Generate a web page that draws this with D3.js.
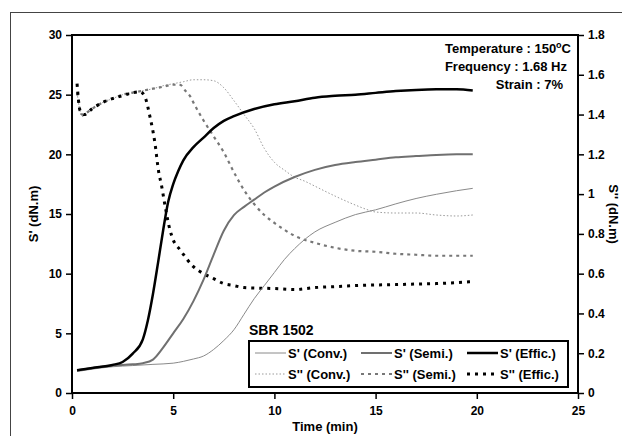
<!DOCTYPE html>
<html>
<head>
<meta charset="utf-8">
<script src="https://cdn.jsdelivr.net/npm/d3@7"></script>
<style>
  html, body { margin: 0; padding: 0; background: #fff; }
  svg { display: block; }
  text { font-family: "Liberation Sans", Arial, sans-serif; font-weight: bold; fill: #000; }
</style>
</head>
<body>
<svg id="chart" width="622" height="436"></svg>
<script>
// Cure curves of SBR 1502 at 150 °C: storage torque S' (left axis) and loss torque S'' (right axis)

const xTicks = [0, 5, 10, 15, 20, 25];
const yLeftTicks = [0, 5, 10, 15, 20, 25, 30];
const yRightTicks = [0, 0.2, 0.4, 0.6, 0.8, 1, 1.2, 1.4, 1.6, 1.8];

// S' – conventional cure system
const sConvTime  = [0.25, 1, 2, 3, 4, 5, 5.5, 6, 6.5, 7, 7.5, 8, 8.5, 9, 9.5, 10, 10.5, 11, 12, 13, 14, 15, 16, 17, 18, 19, 19.8];
const sConvValue = [1.8, 2.0, 2.2, 2.3, 2.4, 2.5, 2.65, 2.85, 3.1, 3.65, 4.4, 5.3, 6.6, 7.9, 9.0, 10.1, 11.2, 12.1, 13.5, 14.3, 14.95, 15.35, 15.85, 16.3, 16.65, 16.95, 17.15];

// S' – semi-efficient cure system
const sSemiTime  = [0.25, 1, 2, 3, 3.5, 4, 4.5, 5, 5.5, 6, 6.5, 7, 7.5, 8, 8.5, 9, 9.5, 10, 11, 12, 13, 14, 15, 16, 17, 18, 19, 19.8];
const sSemiValue = [1.9, 2.1, 2.3, 2.4, 2.5, 2.8, 3.8, 5.0, 6.2, 7.7, 9.5, 11.6, 13.6, 14.9, 15.6, 16.2, 16.8, 17.3, 18.1, 18.7, 19.1, 19.35, 19.55, 19.75, 19.85, 19.95, 20.0, 20.0];

// S' – efficient cure system
const sEfficTime  = [0.25, 1, 2, 2.5, 3, 3.5, 3.75, 4, 4.25, 4.5, 4.75, 5, 5.25, 5.5, 6, 6.5, 7, 7.5, 8, 9, 10, 11, 12, 13, 14, 15, 16, 17, 18, 19, 19.8];
const sEfficValue = [1.9, 2.1, 2.35, 2.6, 3.3, 4.5, 6.1, 8.3, 10.9, 13.6, 16.0, 17.5, 18.6, 19.5, 20.6, 21.4, 22.2, 22.8, 23.2, 23.8, 24.2, 24.45, 24.75, 24.9, 25.0, 25.15, 25.3, 25.4, 25.45, 25.45, 25.35];

// S'' – conventional cure system
const ssConvTime  = [0.25, 0.5, 1, 1.5, 2, 2.5, 3, 3.5, 4, 4.5, 5, 5.5, 6, 6.5, 7, 7.5, 8, 8.5, 9, 9.5, 10, 10.5, 11, 11.5, 12, 13, 14, 14.5, 15, 16, 17, 18, 19, 19.8];
const ssConvValue = [1.51, 1.39, 1.43, 1.46, 1.48, 1.5, 1.51, 1.52, 1.53, 1.545, 1.555, 1.565, 1.575, 1.575, 1.57, 1.535, 1.47, 1.4, 1.33, 1.23, 1.16, 1.12, 1.085, 1.065, 1.04, 0.99, 0.945, 0.925, 0.91, 0.905, 0.905, 0.895, 0.89, 0.895];

// S'' – semi-efficient cure system
const ssSemiTime  = [0.25, 0.5, 1, 1.5, 2, 2.5, 3, 3.5, 4, 4.5, 5, 5.35, 5.6, 5.85, 6, 6.5, 7, 7.5, 8, 8.5, 9, 9.5, 10, 10.5, 11, 12, 13, 14, 15, 16, 17, 18, 19, 19.8];
const ssSemiValue = [1.51, 1.4, 1.43, 1.46, 1.48, 1.5, 1.51, 1.52, 1.53, 1.54, 1.55, 1.549, 1.52, 1.49, 1.46, 1.37, 1.29, 1.21, 1.11, 1.02, 0.95, 0.895, 0.855, 0.82, 0.79, 0.755, 0.73, 0.715, 0.71, 0.7, 0.695, 0.69, 0.69, 0.69];

// S'' – efficient cure system
const ssEfficTime  = [0.25, 0.4, 0.6, 1, 1.5, 2, 2.5, 3, 3.36, 3.6, 3.85, 4.1, 4.27, 4.43, 4.6, 4.84, 5, 5.34, 6, 6.5, 7, 7.5, 8, 8.5, 9, 10, 11, 12, 13, 14, 15, 16, 17, 18, 19, 19.8];
const ssEfficValue = [1.555, 1.42, 1.4, 1.43, 1.46, 1.48, 1.495, 1.51, 1.515, 1.49, 1.39, 1.255, 1.12, 1.04, 0.94, 0.82, 0.77, 0.72, 0.635, 0.6, 0.575, 0.55, 0.54, 0.53, 0.528, 0.525, 0.52, 0.53, 0.535, 0.54, 0.543, 0.545, 0.548, 0.55, 0.555, 0.56];

const seriesLabels = ["S' (Conv.)", "S' (Semi.)", "S' (Effic.)", "S'' (Conv.)", "S'' (Semi.)", "S'' (Effic.)"];

const svg = d3.select("#chart");

// outer frame
svg.append("rect")
  .attr("x", 10.5).attr("y", 12.5)
  .attr("width", 700).attr("height", 500)
  .attr("fill", "none").attr("stroke", "#444").attr("stroke-width", 1);

const plot = { left: 72, top: 35, right: 578, bottom: 393 };

const x = d3.scaleLinear().domain([0, 25]).range([plot.left, plot.right]);
const yL = d3.scaleLinear().domain([0, 30]).range([plot.bottom, plot.top]);
const yR = d3.scaleLinear().domain([0, 1.8]).range([plot.bottom, plot.top]);

// styles for each series
const styles = [
  { color: "#8a8a8a", width: 1,   dash: null },
  { color: "#707070", width: 2,   dash: null },
  { color: "#000",    width: 2.5, dash: null },
  { color: "#9a9a9a", width: 1,   dash: "1.5,2" },
  { color: "#777",    width: 2.2, dash: "3,4" },
  { color: "#000",    width: 3,   dash: "3,5" }
];

const series = [
  { t: sConvTime,   v: sConvValue,   y: yL },
  { t: sSemiTime,   v: sSemiValue,   y: yL },
  { t: sEfficTime,  v: sEfficValue,  y: yL },
  { t: ssConvTime,  v: ssConvValue,  y: yR },
  { t: ssSemiTime,  v: ssSemiValue,  y: yR },
  { t: ssEfficTime, v: ssEfficValue, y: yR }
];

const drawOrder = [3, 4, 5, 0, 1, 2];
drawOrder.forEach(i => {
  const s = series[i], st = styles[i];
  const pts = s.t.map((t, k) => [t, s.v[k]]);
  const line = d3.line()
    .x(d => x(d[0]))
    .y(d => s.y(d[1]))
    .curve(d3.curveMonotoneX);
  svg.append("path")
    .datum(pts)
    .attr("d", line)
    .attr("fill", "none")
    .attr("stroke", st.color)
    .attr("stroke-width", st.width)
    .attr("stroke-dasharray", st.dash)
    .attr("stroke-linejoin", "round");
});

// plot frame
svg.append("rect")
  .attr("x", plot.left).attr("y", plot.top)
  .attr("width", plot.right - plot.left).attr("height", plot.bottom - plot.top)
  .attr("fill", "none").attr("stroke", "#000").attr("stroke-width", 2);

// axes
function styleAxis(g) {
  g.select(".domain").remove();
  g.selectAll(".tick line").attr("stroke", "#000").attr("stroke-width", 1.5);
  g.selectAll(".tick text").attr("font-size", 12).attr("font-family", "Liberation Sans, Arial, sans-serif").attr("font-weight", "bold");
}

svg.append("g")
  .attr("transform", `translate(0,${plot.bottom})`)
  .call(d3.axisBottom(x).tickValues(xTicks).tickSize(6).tickPadding(7).tickFormat(d3.format("d")))
  .call(styleAxis);

svg.append("g")
  .attr("transform", `translate(${plot.left},0)`)
  .call(d3.axisLeft(yL).tickValues(yLeftTicks).tickSize(6).tickPadding(4).tickFormat(d3.format("d")))
  .call(styleAxis);

svg.append("g")
  .attr("transform", `translate(${plot.right},0)`)
  .call(d3.axisRight(yR).tickValues(yRightTicks).tickSize(6).tickPadding(4).tickFormat(d => d3.format("~g")(d)))
  .call(styleAxis);

// axis titles
svg.append("text")
  .attr("x", (plot.left + plot.right) / 2).attr("y", 431)
  .attr("text-anchor", "middle").attr("font-size", 13)
  .text("Time (min)");

svg.append("text")
  .attr("transform", `translate(38,${(plot.top + plot.bottom) / 2}) rotate(-90)`)
  .attr("text-anchor", "middle").attr("font-size", 13)
  .text("S' (dN.m)");

svg.append("text")
  .attr("transform", `translate(609,${(plot.top + plot.bottom) / 2}) rotate(90)`)
  .attr("text-anchor", "middle").attr("font-size", 13)
  .text("S'' (dN.m)");

// test conditions
const cond = svg.append("g").attr("font-size", 13).attr("text-anchor", "end");
const t1 = cond.append("text").attr("x", 571).attr("y", 53);
t1.append("tspan").text("Temperature : 150");
t1.append("tspan").attr("dy", -5).attr("font-size", 9).text("o");
t1.append("tspan").attr("dy", 5).text("C");
cond.append("text").attr("x", 567).attr("y", 71).text("Frequency : 1.68 Hz");
cond.append("text").attr("x", 563).attr("y", 89).text("Strain : 7%");

// legend
svg.append("text")
  .attr("x", 249).attr("y", 335)
  .attr("font-size", 14)
  .text("SBR 1502");

svg.append("rect")
  .attr("x", 249).attr("y", 341)
  .attr("width", 319).attr("height", 46)
  .attr("fill", "#fff").attr("stroke", "#000").attr("stroke-width", 2);

const legendCols = [255, 361, 467];
const legendRows = [353, 374];
seriesLabels.forEach((label, i) => {
  const col = legendCols[i % 3], row = legendRows[Math.floor(i / 3)];
  const st = styles[i];
  svg.append("line")
    .attr("x1", col).attr("x2", col + 31)
    .attr("y1", row).attr("y2", row)
    .attr("stroke", st.color)
    .attr("stroke-width", st.width)
    .attr("stroke-dasharray", st.dash);
  svg.append("text")
    .attr("x", col + 33).attr("y", row + 4.5)
    .attr("font-size", 13)
    .text(label);
});
</script>
</body>
</html>
